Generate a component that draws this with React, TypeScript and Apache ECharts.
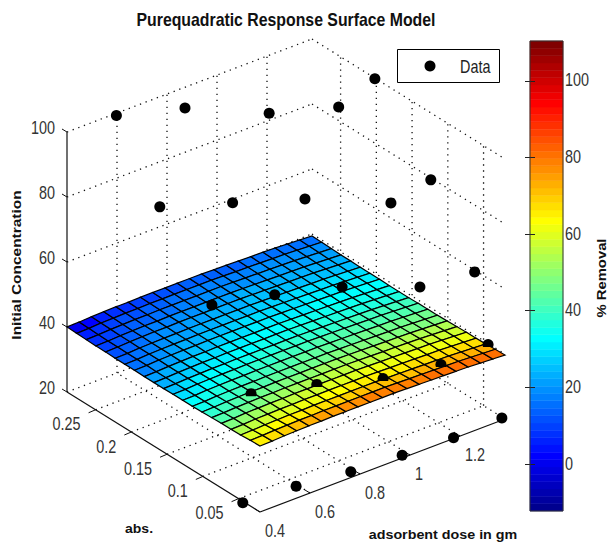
import React, { useEffect, useRef } from "react";
import * as echarts from "echarts";

const TITLE = "Purequadratic Response Surface Model";
const DOSE_RANGE = [0.4, 1.38];
const ABS_RANGE = [0.02, 0.29];
const CONC_RANGE = [20, 100];
const DOSE_TICKS = [0.4, 0.6, 0.8, 1, 1.2];
const ABS_TICKS = [0.05, 0.1, 0.15, 0.2, 0.25];
const CONC_TICKS = [20, 40, 60, 80, 100];
const COLORBAR_RANGE = [-12.3, 110.4];
const COLORBAR_TICKS = [0, 20, 40, 60, 80, 100];

const JET = [
  "#00008F","#00009F","#0000AF","#0000BF","#0000CF","#0000DF","#0000EF","#0000FF",
  "#0010FF","#0020FF","#0030FF","#0040FF","#0050FF","#0060FF","#0070FF","#0080FF",
  "#008FFF","#009FFF","#00AFFF","#00BFFF","#00CFFF","#00DFFF","#00EFFF","#00FFFF",
  "#10FFEF","#20FFDF","#30FFCF","#40FFBF","#50FFAF","#60FF9F","#70FF8F","#80FF80",
  "#8FFF70","#9FFF60","#AFFF50","#BFFF40","#CFFF30","#DFFF20","#EFFF10","#FFFF00",
  "#FFEF00","#FFDF00","#FFCF00","#FFBF00","#FFAF00","#FF9F00","#FF8F00","#FF8000",
  "#FF7000","#FF6000","#FF5000","#FF4000","#FF3000","#FF2000","#FF1000","#FF0000",
  "#EF0000","#DF0000","#CF0000","#BF0000","#AF0000","#9F0000","#8F0000","#800000",
];

// Data markers above the surface: [dose, abs, concentration]
const DATA_OPEN = [
  [0.589,0.287,100],[0.789,0.261,100],[0.977,0.209,100],[1.175,0.181,100],[1.377,0.201,100],
  [0.591,0.227,80],[0.788,0.194,80],[0.983,0.161,80],[1.181,0.110,80],[1.372,0.121,80],
  [0.588,0.153,60],[0.785,0.134,60],[0.983,0.109,60],[1.177,0.068,60],[1.373,0.060,60],
  [0.394,0.042,20],[0.593,0.037,20],[0.786,0.028,20],[0.980,0.024,20],[1.177,0.021,20],[1.376,0.023,20],
];
// Data markers half sunk into the surface
const DATA_SUNK = [
  [0.593,0.100,40],[0.793,0.078,40],[0.981,0.051,40],[1.181,0.040,40],[1.378,0.043,40],
];

const SURFACE_DOSE = [0.4,0.449,0.498,0.547,0.596,0.645,0.694,0.743,0.792,0.841,0.89,0.939,0.988,1.037,1.086,1.135,1.184,1.233,1.282,1.331,1.38];
const SURFACE_ABS = [0.02,0.0335,0.047,0.0605,0.074,0.0875,0.101,0.1145,0.128,0.1415,0.155,0.1685,0.182,0.1955,0.209,0.2225,0.236,0.2495,0.263,0.2765,0.29];

const H0 = [40.3,40.4,40.6,40.7,40.8,40.8,40.9,40.9,40.9,40.9,40.9,40.9,40.8,40.7,40.6,40.5,40.4,40.3,40.1,39.9,39.7];
const H1 = [40.2,40.3,40.5,40.6,40.7,40.7,40.8,40.8,40.8,40.8,40.8,40.8,40.7,40.6,40.5,40.4,40.3,40.2,40.0,39.8,39.6];
const H3 = [40.0,40.1,40.3,40.4,40.5,40.5,40.6,40.6,40.6,40.6,40.6,40.6,40.5,40.4,40.3,40.2,40.1,40.0,39.8,39.6,39.4];
const H4 = [39.9,40.0,40.2,40.3,40.4,40.4,40.5,40.5,40.5,40.5,40.5,40.5,40.4,40.3,40.2,40.1,40.0,39.9,39.7,39.5,39.3];
const H5 = [39.8,39.9,40.1,40.2,40.3,40.3,40.4,40.4,40.4,40.4,40.4,40.4,40.3,40.2,40.1,40.0,39.9,39.8,39.6,39.4,39.2];
const H6 = [39.7,39.8,40.0,40.1,40.2,40.2,40.3,40.3,40.3,40.3,40.3,40.3,40.2,40.1,40.0,39.9,39.8,39.7,39.5,39.3,39.1];
const H7 = [39.6,39.7,39.9,40.0,40.1,40.1,40.2,40.2,40.2,40.2,40.2,40.2,40.1,40.0,39.9,39.8,39.7,39.6,39.4,39.2,39.0];
const H8 = [39.5,39.6,39.8,39.9,40.0,40.0,40.1,40.1,40.1,40.1,40.1,40.1,40.0,39.9,39.8,39.7,39.6,39.5,39.3,39.1,38.9];
// Surface height per abs row
const SURFACE_HEIGHT = [H0,H1,H3,H4,H4,H5,H6,H7,H7,H7,H8,H8,H8,H7,H7,H7,H6,H6,H5,H4,H3];

// % Removal per mesh cell: rows by abs, columns by dose
const SURFACE_REMOVAL = [
  [66,68,70,72,73,74,75,76,77,78,78,79,79,79,80,80,80,80,80,80],
  [59,61,63,65,66,67,68,69,70,71,71,72,72,72,73,73,73,73,73,73],
  [53,55,57,59,60,61,62,63,64,65,65,66,66,66,67,67,67,67,67,67],
  [48,50,52,54,55,56,57,58,59,60,60,61,61,61,62,62,62,62,62,62],
  [43,45,47,49,50,51,52,53,54,55,55,56,56,56,57,57,57,57,57,57],
  [39,41,43,45,46,47,48,49,50,51,51,52,52,52,53,53,53,53,53,53],
  [35,37,39,41,42,43,44,45,46,47,47,48,48,48,49,49,49,49,49,49],
  [32,34,36,38,39,40,41,42,43,44,44,45,45,45,46,46,46,46,46,46],
  [29,31,33,35,36,37,38,39,40,41,41,42,42,42,43,43,43,43,43,43],
  [26,28,30,32,33,34,35,36,37,38,38,39,39,39,40,40,40,40,40,40],
  [23,25,27,29,30,31,32,33,34,35,35,36,36,36,37,37,37,37,37,37],
  [21,23,25,27,28,29,30,31,32,33,33,34,34,34,35,35,35,35,35,35],
  [18,20,22,24,25,26,27,28,29,30,30,31,31,31,32,32,32,32,32,32],
  [16,18,20,22,23,24,25,26,27,28,28,29,29,29,30,30,30,30,30,30],
  [14,16,18,20,21,22,23,24,25,26,26,27,27,27,28,28,28,28,28,28],
  [12,14,16,18,19,20,21,22,23,24,24,25,25,25,26,26,26,26,26,26],
  [10,12,14,16,17,18,19,20,21,22,22,23,23,23,24,24,24,24,24,24],
  [7,9,11,13,14,15,16,17,18,19,19,20,20,20,21,21,21,21,21,21],
  [5,7,9,11,12,13,14,15,16,17,17,18,18,18,19,19,19,19,19,19],
  [1,3,5,7,8,9,10,11,12,13,13,14,14,14,15,15,15,15,15,15],
];

const FONT = "'Liberation Sans', Arial, sans-serif";

// View of the 3D box on the flat page plane
function project(dose: number, abs: number, conc: number): [number, number] {
  const u = (dose - DOSE_RANGE[0]) / (DOSE_RANGE[1] - DOSE_RANGE[0]);
  const v = (abs - ABS_RANGE[0]) / (ABS_RANGE[1] - ABS_RANGE[0]);
  return [260 + 245 * u - 193 * v, 512 - 93 * u - 120 * v - 3.25 * (conc - CONC_RANGE[0])];
}

function bandIndex(value: number) {
  const t = (value - COLORBAR_RANGE[0]) / (COLORBAR_RANGE[1] - COLORBAR_RANGE[0]);
  return Math.max(0, Math.min(JET.length - 1, Math.floor(t * JET.length)));
}

function segmentSeries(segs: number[][], stroke: string, lineWidth: number, lineDash?: number[]) {
  return {
    type: "custom", coordinateSystem: "cartesian2d", xAxisIndex: 0, yAxisIndex: 0, silent: true, clip: false,
    data: segs,
    renderItem: (_: any, api: any) => {
      const a = api.coord([api.value(0), api.value(1)]);
      const b = api.coord([api.value(2), api.value(3)]);
      return {
        type: "line",
        shape: { x1: a[0], y1: a[1], x2: b[0], y2: b[1] },
        style: { stroke, lineWidth, lineDash, fill: "none" },
      };
    },
  };
}

function labelSeries(items: { at: number[]; text: string }[], align: string, dx: number, dy: number, axisIndex = 0) {
  return {
    type: "custom", coordinateSystem: "cartesian2d", xAxisIndex: axisIndex, yAxisIndex: axisIndex, silent: true, clip: false,
    z: 8,
    data: items.map((d) => [d.at[0], d.at[1]]),
    renderItem: (params: any, api: any) => {
      const p = api.coord([api.value(0), api.value(1)]);
      return {
        type: "text", x: p[0] + dx, y: p[1] + dy, scaleX: 0.8,
        style: {
          text: items[params.dataIndex].text, fill: "#333", fontFamily: FONT, fontSize: 18,
          align, verticalAlign: "middle",
        },
      };
    },
  };
}

function buildOption() {
  const [d0, d1] = DOSE_RANGE;
  const [a0, a1] = ABS_RANGE;
  const [c0, c1] = CONC_RANGE;
  const seg = (p: [number, number], q: [number, number]) => [p[0], p[1], q[0], q[1]];

  const dotted: number[][] = [];
  for (const c of CONC_TICKS) {
    dotted.push(seg(project(d0, a1, c), project(d1, a1, c)));
    dotted.push(seg(project(d1, a1, c), project(d1, a0, c)));
  }
  for (const d of DOSE_TICKS) {
    if (d > d0) dotted.push(seg(project(d, a1, c0), project(d, a1, c1)));
    if (d > d0) dotted.push(seg(project(d, a0, c0), project(d, a1, c0)));
  }
  for (const a of ABS_TICKS) {
    dotted.push(seg(project(d1, a, c0), project(d1, a, c1)));
    dotted.push(seg(project(d0, a, c0), project(d1, a, c0)));
  }

  const axes = [
    seg(project(d0, a1, c0), project(d0, a1, c1)),
    seg(project(d0, a1, c0), project(d0, a0, c0)),
    seg(project(d0, a0, c0), project(d1, a0, c0)),
  ];
  const ticks: number[][] = [];
  for (const c of CONC_TICKS) {
    const p = project(d0, a1, c);
    ticks.push([p[0], p[1], p[0] - 5, p[1] - 3]);
  }
  for (const a of ABS_TICKS) {
    const p = project(d0, a, c0);
    ticks.push([p[0], p[1], p[0] - 7, p[1] + 3]);
  }
  for (const d of DOSE_TICKS) {
    const p = project(d, a0, c0);
    ticks.push([p[0], p[1], p[0] - 5, p[1] - 3]);
  }

  const cells: number[][] = [];
  for (let j = SURFACE_REMOVAL.length - 1; j >= 0; j--) {
    for (let i = 0; i < SURFACE_REMOVAL[j].length; i++) {
      const p1 = project(SURFACE_DOSE[i], SURFACE_ABS[j], SURFACE_HEIGHT[j][i]);
      const p2 = project(SURFACE_DOSE[i + 1], SURFACE_ABS[j], SURFACE_HEIGHT[j][i + 1]);
      const p3 = project(SURFACE_DOSE[i + 1], SURFACE_ABS[j + 1], SURFACE_HEIGHT[j + 1][i + 1]);
      const p4 = project(SURFACE_DOSE[i], SURFACE_ABS[j + 1], SURFACE_HEIGHT[j + 1][i]);
      cells.push([p1[0], p1[1], p2[0], p2[1], p3[0], p3[1], p4[0], p4[1], SURFACE_REMOVAL[j][i]]);
    }
  }

  const series: any[] = [
    segmentSeries(dotted, "#111", 1.3, [1.3, 4.7]),
    segmentSeries(axes, "#111", 1.2),
    segmentSeries(ticks, "#111", 1),
    {
      type: "custom", coordinateSystem: "cartesian2d", xAxisIndex: 0, yAxisIndex: 0, silent: true, clip: false,
      data: cells,
      renderItem: (_: any, api: any) => {
        const pts = [0, 2, 4, 6].map((k) => api.coord([api.value(k), api.value(k + 1)]));
        return {
          type: "polygon",
          shape: { points: pts },
          style: { fill: JET[bandIndex(api.value(8))], stroke: "#000", lineWidth: 1.2 },
        };
      },
    },
    labelSeries(CONC_TICKS.map((c) => ({ at: project(d0, a1, c), text: String(c) })), "right", -12, -5),
    labelSeries(ABS_TICKS.map((a) => ({ at: project(d0, a, c0), text: String(a) })), "right", -15, 14),
    labelSeries(DOSE_TICKS.map((d) => ({ at: project(d, a0, c0), text: String(d) })), "left", 5, 18),
    labelSeries(COLORBAR_TICKS.map((t) => ({ at: [1, t], text: String(t) })), "left", 2, -1, 1),
    {
      type: "scatter", xAxisIndex: 0, yAxisIndex: 0, silent: true, clip: false,
      symbol: "circle", symbolSize: 11, itemStyle: { color: "#000", opacity: 1 }, z: 5,
      data: DATA_OPEN.map((d) => project(d[0], d[1], d[2])),
    },
    {
      type: "scatter", xAxisIndex: 0, yAxisIndex: 0, silent: true, clip: false,
      symbol: "path://M-5,2 A5.5,5.5 0 1 1 5,2 Z", symbolSize: [11, 8], symbolOffset: [0, -1],
      itemStyle: { color: "#000", opacity: 1 }, z: 5,
      data: DATA_SUNK.map((d) => project(d[0], d[1], d[2])),
    },
    {
      type: "custom", coordinateSystem: "cartesian2d", xAxisIndex: 1, yAxisIndex: 1, silent: true, clip: false,
      data: JET.map((_, i) => [i]),
      renderItem: (params: any, api: any) => {
        const i = params.dataIndex;
        const [lo, hi] = COLORBAR_RANGE;
        const bottom = api.coord([0, lo + ((hi - lo) * i) / JET.length]);
        const top = api.coord([1, lo + ((hi - lo) * (i + 1)) / JET.length]);
        return {
          type: "rect",
          shape: { x: bottom[0], y: top[1], width: top[0] - bottom[0], height: bottom[1] - top[1] },
          style: { fill: JET[i], stroke: JET[i], lineWidth: 0.5 },
        };
      },
    },
  ];

  const colorbarAxis = (position: string) => ({
    type: "value", gridIndex: 1, position, z: 6,
    min: COLORBAR_RANGE[0], max: COLORBAR_RANGE[1],
    axisLine: { show: false },
    splitLine: { show: false },
    axisTick: {
      show: true, inside: true, length: 5, customValues: COLORBAR_TICKS,
      lineStyle: { color: "#222", width: 1 },
    },
    axisLabel: { show: false },
  });

  const boldText = (text: string, x: number, y: number, fontSize: number, scaleX: number, rotation = 0) => ({
    type: "text", z: 8, x, y, rotation, scaleX,
    style: { text, fill: "#111", fontFamily: FONT, fontWeight: "bold", fontSize, align: "center", verticalAlign: "middle" },
  });

  return {
    animation: false,
    backgroundColor: "#fff",
    grid: [
      { left: 0, top: 0, width: 609, height: 546, containLabel: false },
      { left: 530, top: 41, width: 33, height: 470, containLabel: false },
    ],
    xAxis: [
      { type: "value", gridIndex: 0, min: 0, max: 609, show: false },
      { type: "value", gridIndex: 1, min: 0, max: 1, show: false },
    ],
    yAxis: [
      { type: "value", gridIndex: 0, min: 0, max: 546, inverse: true, show: false },
      colorbarAxis("right"),
      colorbarAxis("left"),
    ],
    series,
    graphic: [
      { type: "rect", z: 7, shape: { x: 530, y: 41, width: 33, height: 470 }, style: { fill: "none", stroke: "#333", lineWidth: 1 } },
      { type: "rect", z: 7, shape: { x: 397.5, y: 49.5, width: 102, height: 33 }, style: { fill: "#fff", stroke: "#000", lineWidth: 1 } },
      { type: "circle", z: 8, shape: { cx: 430, cy: 66, r: 5.5 }, style: { fill: "#000" } },
      { type: "text", z: 8, x: 460, y: 66, scaleX: 0.8, style: { text: "Data", fill: "#222", fontFamily: FONT, fontSize: 18, align: "left", verticalAlign: "middle" } },
      boldText(TITLE, 286, 20, 18, 0.88),
      boldText("Initial Concentration", 16, 265, 13, 1.19, Math.PI / 2),
      boldText("% Removal", 601, 278, 13, 1.14, Math.PI / 2),
      boldText("abs.", 139, 529, 12, 1.17),
      boldText("adsorbent dose in gm", 443, 535, 13, 1.1),
    ],
  };
}

export default function App() {
  const ref = useRef<HTMLDivElement>(null);
  useEffect(() => {
    const chart = echarts.init(ref.current!, null, { renderer: "svg" });
    chart.setOption(buildOption() as any);
    return () => chart.dispose();
  }, []);
  return <div ref={ref} style={{ position: "absolute", left: 0, top: 0, width: 609, height: 546 }} />;
}
